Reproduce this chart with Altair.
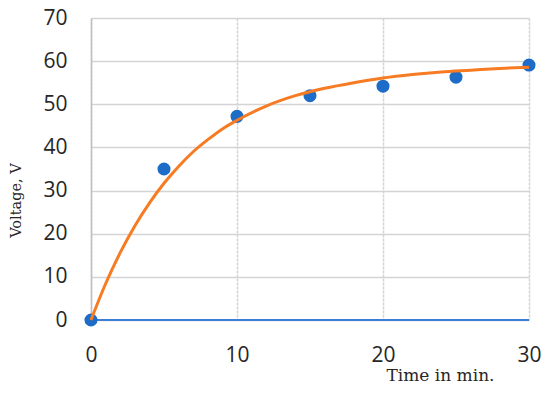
import altair as alt
import pandas as pd

# measured points
t_pts = [0, 5, 10, 15, 20, 25, 30]
v_pts = [0, 35, 47.2, 52, 54.2, 56.3, 59.1]

# fitted curve
t_fit = [0, 1, 2, 3, 4, 5, 6, 7, 8, 9, 10, 12, 14, 16, 18, 20, 22, 24, 26, 28, 30]
v_fit = [0, 8.4, 15.6, 21.8, 27.1, 31.7, 35.6, 39.0, 41.8, 44.3, 46.3, 49.6,
         52.0, 53.7, 55.0, 56.1, 56.9, 57.5, 57.9, 58.3, 58.6]

base_line = [0, 30]

pts = pd.DataFrame({"t": t_pts, "v": v_pts})
fit = pd.DataFrame({"t": t_fit, "v": v_fit})
zero = pd.DataFrame({"t": base_line, "v": [0, 0]})

xs = alt.Scale(domain=[0, 30], nice=False, zero=False)
ys = alt.Scale(domain=[0, 70], nice=False)

xax = alt.Axis(values=[0, 10, 20, 30], title="Time in min.", grid=True,
               gridColor="#d4d4d4", gridWidth=1.5, gridDash=[3, 1],
               domain=False, ticks=False, labelFont="Open Sans", labelFontSize=21,
               labelColor="#262626", labelPadding=24, labelFlush=False,
               titleFont="DejaVu Serif", titleFontSize=17, titleFontWeight="normal",
               titleColor="#262626", titleX=349, titleY=60, titleAlign="center",
               titleBaseline="alphabetic")
yax = alt.Axis(values=list(range(0, 71, 10)), title="Voltage, V", grid=True,
               gridColor="#d4d4d4", gridWidth=1.5, domain=True, domainColor="#bfbfbf",
               domainWidth=1.5, ticks=False, labelFont="Open Sans", labelFontSize=21,
               labelColor="#262626", labelPadding=24, labelFlush=False,
               titleFont="DejaVu Serif", titleFontSize=14.5, titleFontWeight="normal",
               titleColor="#262626", titleX=-75, titleY=182, titleAlign="center",
               titleBaseline="middle", titleAngle=270)

zline = alt.Chart(zero).mark_line(color="#3a7fd5", strokeWidth=2).encode(
    x=alt.X("t:Q", scale=xs, axis=xax), y=alt.Y("v:Q", scale=ys, axis=yax))

curve = alt.Chart(fit).mark_line(color="#f77b22", strokeWidth=3, interpolate="monotone").encode(
    x=alt.X("t:Q", scale=xs), y=alt.Y("v:Q", scale=ys))

dots = alt.Chart(pts).mark_circle(color="#1c6cc8", opacity=1, size=170).encode(
    x=alt.X("t:Q", scale=xs), y=alt.Y("v:Q", scale=ys))

chart = alt.layer(zline, dots, curve).properties(
    width=438, height=302,
    autosize=alt.AutoSizeParams(type="none"),
    padding={"left": 83, "top": 10, "right": 13, "bottom": 65},
    background="white",
).configure_view(stroke=None)

chart.save("out.html", embed_options={"renderer": "svg", "actions": False})
